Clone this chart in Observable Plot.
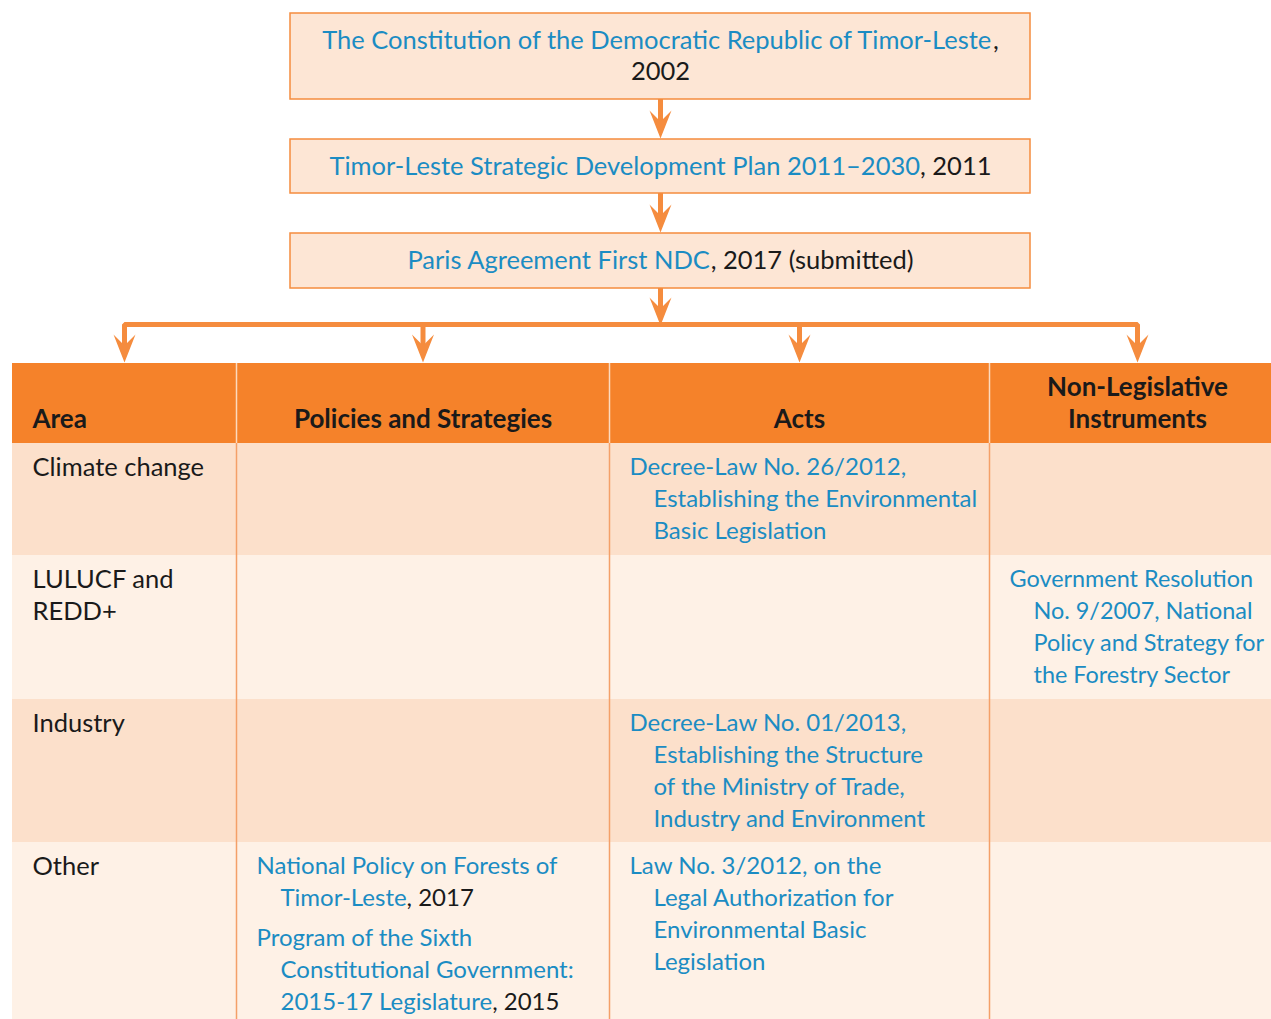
<!DOCTYPE html>
<html>
<head>
<meta charset="utf-8">
<script src="https://cdn.jsdelivr.net/npm/d3@7"></script>
<script src="https://cdn.jsdelivr.net/npm/@observablehq/plot@0.6"></script>
<style>
  html, body { margin: 0; padding: 0; background: #fff; overflow: hidden; }
</style>
</head>
<body>
<div id="chart"></div>
<script>
// ---------- DATA ----------
// Text in {braces} is a linked (blue) document title; the rest is plain.
const topDocs = [
  "{The Constitution of the Democratic Republic of Timor-Leste},\n2002",
  "{Timor-Leste Strategic Development Plan 2011–2030}, 2011",
  "{Paris Agreement First NDC}, 2017 (submitted)"
];
const columns = ["Area", "Policies and Strategies", "Acts", "Non-Legislative\nInstruments"];
const areas = ["Climate change", "LULUCF and\nREDD+", "Industry", "Other"];
const policies = [
  [],
  [],
  [],
  ["{National Policy on Forests of\nTimor-Leste}, 2017",
   "{Program of the Sixth\nConstitutional Government:\n2015-17 Legislature}, 2015"]
];
const acts = [
  ["{Decree-Law No. 26/2012,\nEstablishing the Environmental\nBasic Legislation}"],
  [],
  ["{Decree-Law No. 01/2013,\nEstablishing the Structure\nof the Ministry of Trade,\nIndustry and Environment}"],
  ["{Law No. 3/2012, on the\nLegal Authorization for\nEnvironmental Basic\nLegislation}"]
];
const nonLegislative = [
  [],
  ["{Government Resolution\nNo. 9/2007, National\nPolicy and Strategy for\nthe Forestry Sector}"],
  [],
  []
];

// ---------- LAYOUT / STYLE ----------
const W = 1271, H = 1019;
const colEdges = [12, 236, 609, 989, 1285];
const headerTop = 363;
const rowEdges = [443, 555, 699, 842, 1019];
const boxX = [290, 1030];
const boxY = [[13, 99], [139, 193], [233, 288]];
const connectorY = 324;
const headTipY = 362;

const C = {
  orange: "#F5822A",
  line: "#F58C3E",
  box: "#FDE6D5",
  rowA: "#FCE0CB",
  rowB: "#FEF1E6",
  headSep: "#FCD9BE",
  bodySep: "#F4A068",
  link: "#1B8CC3",
  text: "#1A1A1A"
};
const FONT = "Lato";
const FS_TOP = 25.5, FS_HEAD = 26, FS_AREA = 25.5, FS_BODY = 24;
const LINE = 32, ITEM_GAP = 8, PAD = 20, INDENT = 24;

// ---------- TEXT HELPERS ----------
const ctx = document.createElement("canvas").getContext("2d");
function textWidth(s, weight, size) {
  ctx.font = `${weight} ${size}px ${FONT}`;
  return ctx.measureText(s).width;
}
// parse markup into lines of segments [{text, link}]
function parse(str) {
  const lines = [[]];
  let link = false, buf = "";
  const flush = () => { if (buf) lines[lines.length - 1].push({text: buf, link}); buf = ""; };
  for (const ch of str) {
    if (ch === "{") { flush(); link = true; }
    else if (ch === "}") { flush(); link = false; }
    else if (ch === "\n") { flush(); lines.push([]); }
    else buf += ch;
  }
  flush();
  return lines;
}
const lineWidth = (segs, weight, size) => d3.sum(segs, s => textWidth(s.text, weight, size));
const segments = [];
function placeLine(segs, x, y, anchor, weight, size) {
  const widths = segs.map(s => textWidth(s.text, weight, size));
  const total = d3.sum(widths);
  let cx = anchor === "middle" ? x - total / 2 : x;
  segs.forEach((s, i) => {
    segments.push({x: cx, y, text: s.text, fill: s.link ? C.link : C.text, weight, size});
    cx += widths[i];
  });
}

// top boxes
topDocs.forEach((doc, i) => {
  const lines = parse(doc);
  const cy = (boxY[i][0] + boxY[i][1]) / 2;
  const step = 31;
  lines.forEach((segs, j) => {
    const y = cy + (j - (lines.length - 1) / 2) * step;
    placeLine(segs, (boxX[0] + boxX[1]) / 2, y, "middle", 400, FS_TOP);
  });
});

// header
columns.forEach((col, c) => {
  const lines = col.split("\n");
  const lastY = 419;
  lines.forEach((t, j) => {
    const y = lastY - (lines.length - 1 - j) * LINE;
    if (c === 0) placeLine([{text: t, link: false}], colEdges[0] + 20, y, "start", 700, FS_HEAD);
    else placeLine([{text: t, link: false}], (colEdges[c] + colEdges[c + 1]) / 2, y, "middle", 700, FS_HEAD);
  });
});

// body
const bodyCols = [areas.map(a => [a]), policies, acts, nonLegislative];
bodyCols.forEach((colData, c) => {
  const right = Math.min(colEdges[c + 1], W) - 6;
  colData.forEach((items, r) => {
    let y = rowEdges[r] + 24;
    items.forEach(item => {
      const lines = parse(item);
      let size = c === 0 ? FS_AREA : FS_BODY;
      // shrink slightly if a line would run past the visible cell edge
      lines.forEach((segs, j) => {
        const x = colEdges[c] + PAD + (c > 0 && j > 0 ? INDENT : 0);
        const w = lineWidth(segs, 400, size);
        if (x + w > right) size = size * (right - x) / w;
      });
      lines.forEach((segs, j) => {
        const x = colEdges[c] + PAD + (c > 0 && j > 0 ? INDENT : 0);
        placeLine(segs, x, y + j * LINE, "start", 400, size);
      });
      y += lines.length * LINE + ITEM_GAP;
    });
  });
});

// ---------- GEOMETRY FROM LAYOUT ----------
const cells = [];
for (let r = 0; r < areas.length; r++) {
  cells.push({x1: colEdges[0], x2: colEdges[colEdges.length - 1], y1: rowEdges[r], y2: rowEdges[r + 1], fill: r % 2 === 0 ? C.rowA : C.rowB});
}
const boxes = boxY.map(([y1, y2]) => ({x1: boxX[0], x2: boxX[1], y1, y2}));
const colCenters = d3.range(columns.length).map(c => (colEdges[c] + colEdges[c + 1]) / 2);
const midX = (boxX[0] + boxX[1]) / 2;

const shafts = [
  {x: midX, y1: boxY[0][1], y2: boxY[1][0] - 14},
  {x: midX, y1: boxY[1][1], y2: boxY[2][0] - 14},
  {x: midX, y1: boxY[2][1], y2: connectorY - 10},
  ...colCenters.slice(1, -1).map(x => ({x, y1: connectorY, y2: headTipY - 14}))
];
const connectorPath = [
  {x: colCenters[0], y: headTipY - 14},
  {x: colCenters[0], y: connectorY},
  {x: colCenters[colCenters.length - 1], y: connectorY},
  {x: colCenters[colCenters.length - 1], y: headTipY - 14}
];
const tips = [
  {x: midX, y: boxY[1][0] - 1},
  {x: midX, y: boxY[2][0] - 1},
  {x: midX, y: connectorY + 1},
  ...colCenters.map(x => ({x, y: headTipY}))
];
const arrowHead = {
  draw(context) {
    context.moveTo(0, 0);
    context.lineTo(-11, -28);
    context.lineTo(0, -17);
    context.lineTo(11, -28);
    context.closePath();
  }
};

const textMarks = d3.groups(segments, d => `${d.weight}|${d.size}`).map(([key, group]) => {
  const [weight, size] = key.split("|");
  return Plot.text(group, {x: "x", y: "y", text: "text", fill: "fill", textAnchor: "start", lineAnchor: "middle",
    fontSize: +size, fontFamily: FONT, fontWeight: +weight});
});

const chart = Plot.plot({
  width: W,
  height: H,
  margin: 0,
  x: {type: "linear", domain: [0, W], range: [0, W], axis: null},
  y: {type: "linear", domain: [0, H], range: [0, H], axis: null},
  color: {type: "identity"},
  style: {background: "#ffffff", overflow: "hidden"},
  marks: [
    Plot.rect(boxes, {x1: "x1", x2: "x2", y1: "y1", y2: "y2", fill: C.box, stroke: C.line, strokeWidth: 1.5}),
    Plot.rect([{x1: colEdges[0], x2: colEdges[colEdges.length - 1], y1: headerTop, y2: rowEdges[0]}],
      {x1: "x1", x2: "x2", y1: "y1", y2: "y2", fill: C.orange}),
    Plot.rect(cells, {x1: "x1", x2: "x2", y1: "y1", y2: "y2", fill: "fill"}),
    Plot.ruleX(colEdges.slice(1, -1), {y1: headerTop, y2: rowEdges[0], stroke: C.headSep, strokeWidth: 1.5}),
    Plot.ruleX(colEdges.slice(1, -1), {y1: rowEdges[0], y2: rowEdges[rowEdges.length - 1], stroke: C.bodySep, strokeWidth: 1.5}),
    Plot.ruleX(shafts, {x: "x", y1: "y1", y2: "y2", stroke: C.line, strokeWidth: 5}),
    Plot.line(connectorPath, {x: "x", y: "y", stroke: C.line, strokeWidth: 5, strokeLinejoin: "miter", curve: "linear"}),
    Plot.dot(tips, {x: "x", y: "y", symbol: arrowHead, fill: C.line, stroke: "none"}),
    ...textMarks
  ]
});
document.getElementById("chart").appendChild(chart);
</script>
</body>
</html>
